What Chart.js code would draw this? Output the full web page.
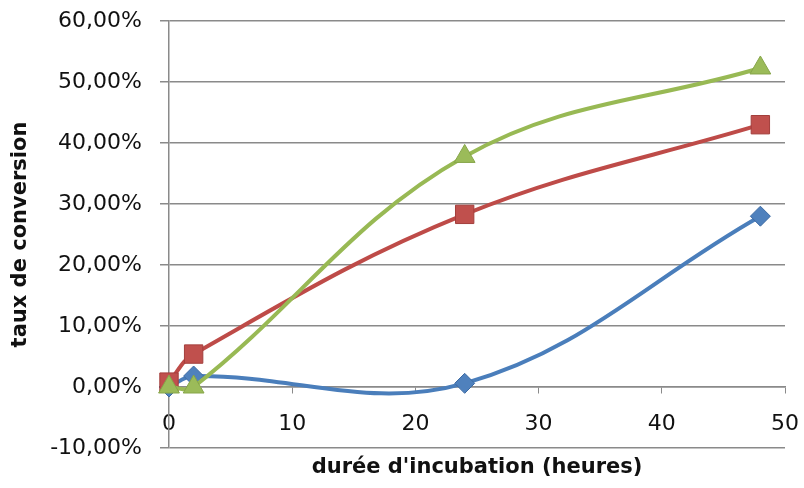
<!DOCTYPE html>
<html>
<head>
<meta charset="utf-8">
<title>Taux de conversion</title>
<script src="https://cdn.jsdelivr.net/npm/chart.js@4/dist/chart.umd.min.js"></script>
<style>
  html, body { margin: 0; padding: 0; background: #ffffff; }
  #wrap { width: 804px; height: 488px; }
</style>
</head>
<body>
<div id="wrap"><canvas id="c" width="804" height="488"></canvas></div>
<script>
// Incubation times (hours) and conversion rates (%) for the three series
const hours = [0, 2, 24, 48];
const serieBleue = [0, 1.8, 0.6, 28.0];
const serieRouge = [0.8, 5.4, 28.3, 43.0];
const serieVerte = [0, 0, 37.8, 52.3];

// Axis tick values
const xTicks = [0, 10, 20, 30, 40, 50];
const yTicks = [-10, 0, 10, 20, 30, 40, 50, 60];

const xTitle = "durée d'incubation (heures)";
const yTitle = 'taux de conversion';

const toPoints = (vals) => hours.map((h, i) => ({ x: h, y: vals[i] }));
const pct = (v) => v.toFixed(2).replace('.', ',') + '%';

const gridGrey = '#8a8a8a';
const tickFont = { family: 'DejaVu Sans', size: 22 };
const titleFont = { family: 'DejaVu Sans', size: 21, weight: 'bold' };

// Tick labels may overhang the plot; the outer padding already leaves room for them
function noLabelOverhang(scale) {
  scale.paddingTop = 0;
  scale.paddingBottom = 0;
  scale.paddingLeft = 0;
  scale.paddingRight = 0;
}

function serie(values, line, fill, edge, style, radius, order) {
  return {
    data: toPoints(values),
    borderColor: line,
    borderWidth: 4,
    backgroundColor: fill,
    pointBackgroundColor: fill,
    pointBorderColor: edge,
    pointBorderWidth: 1,
    pointStyle: style,
    pointRadius: radius,
    pointHoverRadius: radius,
    tension: 0.38,
    clip: false,
    order: order
  };
}

new Chart(document.getElementById('c'), {
  type: 'line',
  data: {
    datasets: [
      serie(serieBleue, '#4a7ebb', '#4f81bd', '#3d6aa3', 'rectRot', 10, 2),
      serie(serieRouge, '#be4b48', '#c0504d', '#a33f3c', 'rect', 13, 1),
      serie(serieVerte, '#98b954', '#9bbb59', '#86a549', 'triangle', 12, 0)
    ]
  },
  options: {
    responsive: false,
    animation: false,
    devicePixelRatio: 1,
    layout: { padding: { left: 0, right: 19, top: 21, bottom: 40 } },
    plugins: {
      legend: { display: false },
      tooltip: { enabled: false }
    },
    scales: {
      x: {
        type: 'linear',
        position: { y: 0 },
        min: 0,
        max: 50,
        afterBuildTicks: (scale) => { scale.ticks = xTicks.map(v => ({ value: v })); },
        afterFit: noLabelOverhang,
        ticks: {
          font: tickFont,
          color: '#111111',
          padding: 18,
          maxRotation: 0,
          autoSkip: false
        },
        grid: {
          drawOnChartArea: false,
          drawTicks: true,
          tickLength: 6,
          tickColor: gridGrey,
          color: gridGrey
        },
        border: { display: true, color: gridGrey, width: 1.5 },
        title: {
          display: true,
          text: xTitle,
          font: titleFont,
          color: '#111111',
          padding: { top: 0, bottom: 0 }
        }
      },
      y: {
        type: 'linear',
        position: 'left',
        min: -10,
        max: 60,
        afterBuildTicks: (scale) => { scale.ticks = yTicks.map(v => ({ value: v })); },
        afterFit: (scale) => { scale.width = 169; noLabelOverhang(scale); },
        ticks: {
          font: tickFont,
          color: '#111111',
          padding: 18,
          callback: (v) => pct(v)
        },
        grid: {
          color: gridGrey,
          lineWidth: 1.5,
          drawTicks: true,
          tickLength: 9,
          tickColor: gridGrey
        },
        border: { display: true, color: gridGrey, width: 1.5 },
        title: {
          display: true,
          text: yTitle,
          font: titleFont,
          color: '#111111',
          padding: { top: 8, bottom: 0 }
        }
      }
    }
  }
});
</script>
</body>
</html>
